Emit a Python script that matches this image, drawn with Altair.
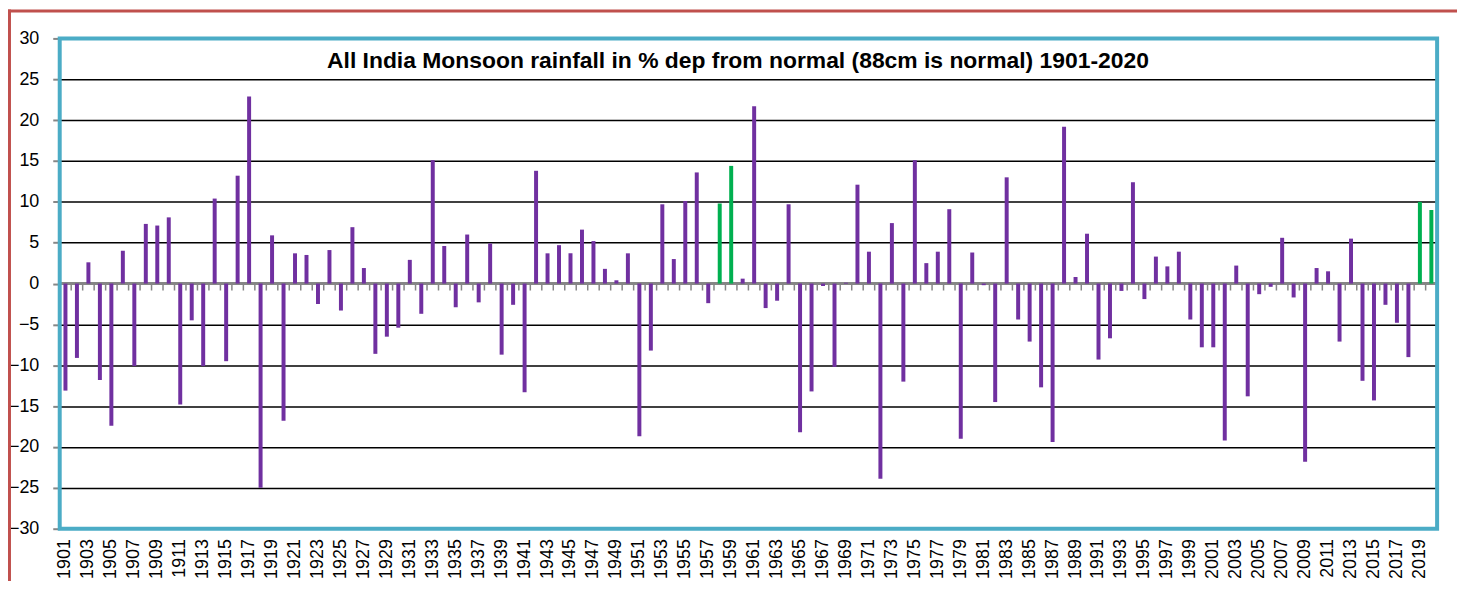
import altair as alt
import pandas as pd

years = list(range(1901, 2021))
departures = [
    -13.1, -9.1, 2.6, -11.8, -17.4, 4.0, -10.1, 7.3, 7.1, 8.1,
    -14.8, -4.5, -10.1, 10.4, -9.5, 13.2, 22.9, -25.0, 5.9, -16.8,
    3.7, 3.5, -2.5, 4.1, -3.3, 6.9, 1.9, -8.6, -6.5, -5.4,
    2.9, -3.7, 15.1, 4.6, -2.9, 6.0, -2.3, 4.9, -8.7, -2.6,
    -13.3, 13.8, 3.7, 4.7, 3.7, 6.6, 5.2, 1.8, 0.4, 3.7,
    -18.7, -8.2, 9.7, 3.0, 10.1, 13.6, -2.4, 9.8, 14.4, 0.6,
    21.7, -3.0, -2.1, 9.7, -18.2, -13.2, -0.3, -10.2, 0.1, 12.1,
    3.9, -23.9, 7.4, -12.0, 15.1, 2.5, 3.9, 9.1, -19.0, 3.8,
    -0.2, -14.5, 13.0, -4.4, -7.1, -12.7, -19.4, 19.2, 0.8, 6.1,
    -9.3, -6.7, -0.9, 12.4, -1.9, 3.3, 2.1, 3.9, -4.4, -7.8,
    -7.8, -19.2, 2.2, -13.8, -1.3, -0.4, 5.6, -1.7, -21.8, 1.9,
    1.5, -7.1, 5.5, -11.9, -14.3, -2.6, -4.8, -9.0, 10.0, 9.0,
]
highlight_years = [1958, 1959, 2019, 2020]
y_ticks = [30, 25, 20, 15, 10, 5, 0, -5, -10, -15, -20, -25, -30]
label_years = [str(y) for y in years if y % 2 == 1]
title_text = "All India Monsoon rainfall in % dep from normal (88cm is normal) 1901-2020"

df = pd.DataFrame({
    "year": [str(y) for y in years],
    "dep": departures,
    "group": ["hi" if y in highlight_years else "base" for y in years],
})

W, H = 1385, 493
FONT = "Liberation Sans"

xscale = alt.Scale(paddingInner=0, paddingOuter=0)
yscale = alt.Scale(domain=[-30, 30], nice=False, zero=False)

base = alt.Chart(df)

zero_line = base.mark_rule(color="#868686", strokeWidth=2).encode(
    y=alt.datum(0, scale=yscale)
)

zero_ticks = base.mark_rule(color="#868686", strokeWidth=1.5).encode(
    x=alt.X("year:O", bandPosition=0, scale=xscale),
    y=alt.datum(0),
    y2=alt.datum(-0.85),
)

bars = base.mark_bar(size=4).encode(
    x=alt.X(
        "year:O",
        scale=xscale,
        title=None,
        axis=alt.Axis(
            values=label_years,
            labelAngle=270,
            labelAlign="right",
            labelBaseline="middle",
            labelFont=FONT,
            labelFontSize=18,
            labelColor="black",
            labelPadding=10,
            ticks=False,
            domain=False,
            grid=False,
        ),
    ),
    y=alt.Y(
        "dep:Q",
        scale=yscale,
        title=None,
        axis=alt.Axis(
            values=y_ticks,
            labelFont=FONT,
            labelFontSize=18,
            labelColor="black",
            tickColor="#868686",
            tickSize=7,
            tickWidth=2,
            labelPadding=14,
            domain=False,
            grid=True,
            gridColor="black",
            gridWidth=1.5,
            gridOpacity={"condition": {"test": "abs(datum.value) >= 30 || datum.value === 0", "value": 0}, "value": 1},
        ),
    ),
    color=alt.Color(
        "group:N",
        scale=alt.Scale(domain=["base", "hi"], range=["#7030A0", "#00B050"]),
        legend=None,
    ),
)

frame = alt.Chart(pd.DataFrame({"t": [title_text]})).mark_rect(
    fill=None, stroke="#4BACC6", strokeWidth=4
).encode(x=alt.value(0), x2=alt.value(W), y=alt.value(0), y2=alt.value(H))

title = alt.Chart(pd.DataFrame({"t": [title_text]})).mark_text(
    font=FONT, fontSize=23, fontWeight="bold", color="black",
    align="center", baseline="alphabetic",
).encode(text="t:N", x=alt.value(682), y=alt.value(30))

red_left = alt.Chart(pd.DataFrame({"t": [0]})).mark_rule(color="#C0504D", strokeWidth=3).encode(
    x=alt.value(-50.5), y=alt.value(-29), y2=alt.value(H + 70)
)
red_top = alt.Chart(pd.DataFrame({"t": [0]})).mark_rule(color="#C0504D", strokeWidth=3).encode(
    x=alt.value(-52), x2=alt.value(W + 20), y=alt.value(-27.5)
)

chart = (
    alt.layer(red_left, red_top, zero_line, zero_ticks, bars, frame, title)
    .properties(
        width=W,
        height=H,
        padding={"left": 52, "top": 29, "right": 20, "bottom": 51},
        autosize=alt.AutoSizeParams(type="none"),
    )
    .configure_view(stroke=None)
    .configure(background="white")
)

chart.save("out.html", embed_options={"renderer": "svg", "actions": False})
